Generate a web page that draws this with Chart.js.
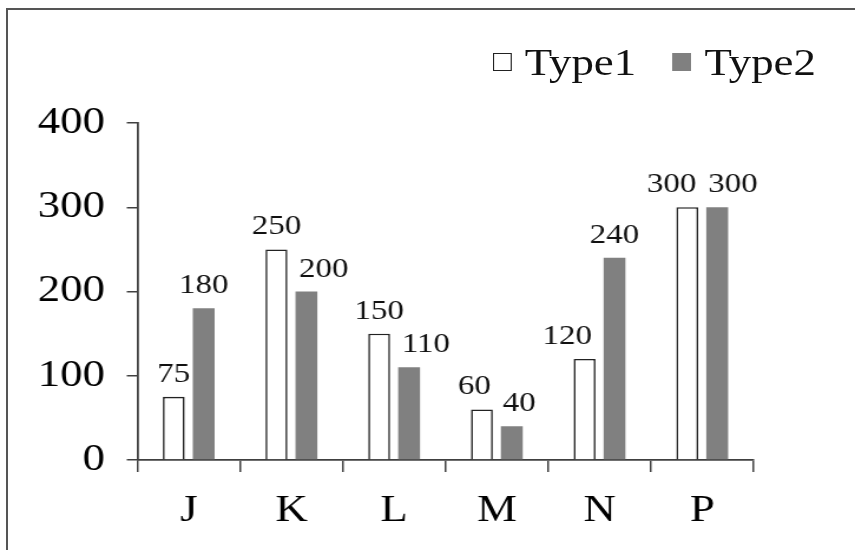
<!DOCTYPE html>
<html>
<head>
<meta charset="utf-8">
<title>Type1 vs Type2</title>
<script src="https://cdn.jsdelivr.net/npm/chart.js@4.4.1/dist/chart.umd.min.js"></script>
<style>
    html, body { margin: 0; padding: 0; background: #fff; }
    body { width: 855px; height: 550px; position: relative; overflow: hidden; font-family: "Liberation Serif", "Times New Roman", serif; }
    .frame { position: absolute; left: 6px; top: 8px; width: 900px; height: 600px; border-left: 2px solid #555; border-top: 2px solid #555; }
    /* the source picture is a bit wider than tall in its lettering, so stretch the whole drawing */
    .stretch { position: absolute; left: 0; top: 0; width: 725px; height: 550px; transform: scaleX(1.1793); transform-origin: 0 0; }
    #legend { position: absolute; left: 418px; top: 43px; display: flex; align-items: center; font-size: 38px; line-height: 38px; color: #111; }
    .item { display: flex; align-items: center; margin-right: 31px; }
    .swatch { width: 16px; height: 18px; box-sizing: border-box; margin-right: 11px; }
</style>
</head>
<body>
<div class="frame"></div>
<div class="stretch">
    <canvas id="chart"></canvas>
    <div id="legend"></div>
</div>
<script>
    const categories = ['J', 'K', 'L', 'M', 'N', 'P'];
    const seriesNames = ['Type1', 'Type2'];
    const type1Values = [75, 250, 150, 60, 120, 300];
    const type2Values = [180, 200, 110, 40, 240, 300];
    const yTicks = [0, 100, 200, 300, 400];

    const FONT = '"Liberation Serif", "Times New Roman", serif';
    const AXIS = '#404040';

    // value labels above each bar; moved sideways when they would sit on a
    // neighbouring bar or on the other label of the group
    const valueLabels = {
        id: 'valueLabels',
        afterDatasetsDraw(chart) {
            const ctx = chart.ctx;
            ctx.save();
            ctx.font = '28px ' + FONT;
            ctx.fillStyle = '#111';
            ctx.textAlign = 'center';
            ctx.textBaseline = 'alphabetic';
            categories.forEach((c, i) => {
                const bars = chart.data.datasets.map((ds, d) => chart.getDatasetMeta(d).data[i]);
                const items = chart.data.datasets.map((ds, d) => {
                    const text = String(ds.data[i]);
                    return { text, x: bars[d].x, y: bars[d].y - 15, w: ctx.measureText(text).width };
                });
                items.forEach((it, k) => {
                    bars.forEach((b, j) => {
                        if (j === k || b.y >= it.y) return;
                        const own = bars[k];
                        if (j < k && it.x - it.w / 2 < b.x + b.width / 2) {
                            it.x = own.x - own.width / 2 + 3 + it.w / 2;
                        } else if (j > k && it.x + it.w / 2 > b.x - b.width / 2) {
                            it.x = own.x + own.width / 2 - 3 - it.w / 2;
                        }
                    });
                });
                for (let k = 1; k < items.length; k++) {
                    const a = items[k - 1], b = items[k];
                    const need = (a.w + b.w) / 2 + 10 - (b.x - a.x);
                    if (need > 0 && Math.abs(a.y - b.y) < 25) {
                        a.x -= need / 2;
                        b.x += need / 2;
                    }
                }
                items.forEach(it => ctx.fillText(it.text, it.x, it.y));
            });
            ctx.restore();
        }
    };

    const chart = new Chart(document.getElementById('chart'), {
        type: 'bar',
        data: {
            labels: categories,
            datasets: [
                { label: seriesNames[0], data: type1Values, backgroundColor: '#ffffff', borderColor: '#222', borderWidth: 1.6 },
                { label: seriesNames[1], data: type2Values, backgroundColor: '#808080', borderWidth: 0 }
            ]
        },
        options: {
            responsive: true,
            maintainAspectRatio: false,
            animation: false,
            datasets: { bar: { categoryPercentage: 0.583, barPercentage: 0.73 } },
            layout: { padding: { top: 123, right: 86, bottom: 0, left: 0 } },
            plugins: { legend: { display: false }, tooltip: { enabled: false } },
            scales: {
                x: {
                    offset: true,
                    grid: { offset: true, drawOnChartArea: false, tickLength: 12, color: AXIS, lineWidth: 1.5 },
                    border: { display: true, color: AXIS, width: 1.8 },
                    ticks: { font: { family: FONT, size: 38 }, color: '#000', padding: 16 },
                    afterFit(s) { s.height = 90; }
                },
                y: {
                    min: 0,
                    max: 400,
                    afterBuildTicks(s) { s.ticks = yTicks.map(v => ({ value: v })); },
                    grid: { drawOnChartArea: false, tickLength: 9, color: AXIS, lineWidth: 1.5 },
                    border: { display: true, color: AXIS, width: 1.8 },
                    ticks: { font: { family: FONT, size: 38 }, color: '#000', padding: 18.5 },
                    afterFit(s) { s.width = 116.5; }
                }
            }
        },
        plugins: [valueLabels]
    });

    // legend from the datasets
    const legend = document.getElementById('legend');
    chart.data.datasets.forEach(ds => {
        const item = document.createElement('div');
        item.className = 'item';
        const sw = document.createElement('span');
        sw.className = 'swatch';
        sw.style.background = ds.backgroundColor;
        sw.style.border = ds.borderWidth ? '1.5px solid ' + ds.borderColor : 'none';
        const txt = document.createElement('span');
        txt.textContent = ds.label;
        item.appendChild(sw);
        item.appendChild(txt);
        legend.appendChild(item);
    });
</script>
</body>
</html>
